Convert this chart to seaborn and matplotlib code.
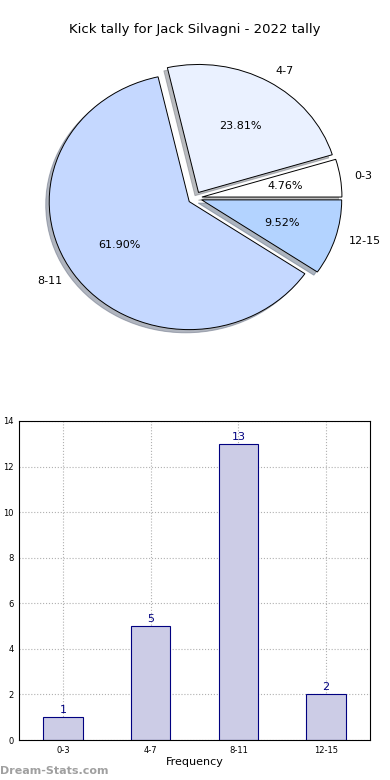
import matplotlib
matplotlib.use("Agg")
import matplotlib.pyplot as plt
import seaborn as sns
import pandas as pd

categories = ["0-3", "4-7", "8-11", "12-15"]
counts = [1, 5, 13, 2]
pie_colors = ["#ffffff", "#eaf1ff", "#c5d8ff", "#b3d3ff"]
title = "Kick tally for Jack Silvagni - 2022 tally"
y_ticks = [0, 2, 4, 6, 8, 10, 12, 14]

sns.set_style("white")
plt.rcParams["font.family"] = ["DejaVu Sans"]
plt.rcParams["text.color"] = "black"
plt.rcParams["xtick.color"] = "black"
plt.rcParams["ytick.color"] = "black"
plt.rcParams["axes.labelcolor"] = "black"

fig = plt.figure(figsize=(3.9, 7.8), dpi=100)

# Pie
ax1 = fig.add_axes([0.0, 430 / 780, 1.0, 300 / 780])
wedges, texts, autotexts = ax1.pie(
    counts, labels=categories, colors=pie_colors, explode=[0.05] * 4,
    autopct="%1.2f%%", pctdistance=0.6, labeldistance=1.1, startangle=0,
    shadow={"ox": -0.018, "oy": -0.018, "shade": 0.5},
    wedgeprops=dict(edgecolor="black", linewidth=0.7),
    textprops=dict(fontsize=8, color="black"))
ax1.set_aspect("auto")
ax1.set_xlim(-195 / 140, 195 / 140)
ax1.set_ylim(-152 / 128, 148 / 128)
ax1.axis("off")
fig.text(0.5, 1 - 30 / 780, title, ha="center", va="center", fontsize=9.5, color="black")

# Bar
ax2 = fig.add_axes([19 / 390, 40 / 780, 351 / 390, 319 / 780])
df = pd.DataFrame({"cat": categories, "val": counts})
sns.barplot(data=df, x="cat", y="val", ax=ax2, color="#ccccE6",
            edgecolor="#000080", linewidth=0.8, width=0.45, saturation=1)
for i, v in enumerate(counts):
    ax2.text(i, v + 0.1, str(v), ha="center", va="bottom", fontsize=8, color="#000080")
ax2.set_xlim(-0.5, 3.5)
ax2.set_ylim(0, 14)
ax2.set_yticks(y_ticks)
ax2.tick_params(axis="both", labelsize=6, length=2, pad=2, colors="black")
ax2.set_xlabel("Frequency", fontsize=8, labelpad=2)
ax2.set_ylabel("Kick Tally", fontsize=8, labelpad=2)
ax2.yaxis.set_label_coords(-0.058, 0.5)
ax2.grid(True, linestyle=":", color="#b0b0b0", linewidth=0.8)
ax2.set_axisbelow(True)
for s in ax2.spines.values():
    s.set_visible(True)
    s.set_color("black")
    s.set_linewidth(0.8)

fig.text(0.0, 1 - 771 / 780, "Dream-Stats.com", ha="left", va="center",
         fontsize=8, color="#a0a0a0", fontweight="bold")

fig.savefig("out.png", dpi=100)
